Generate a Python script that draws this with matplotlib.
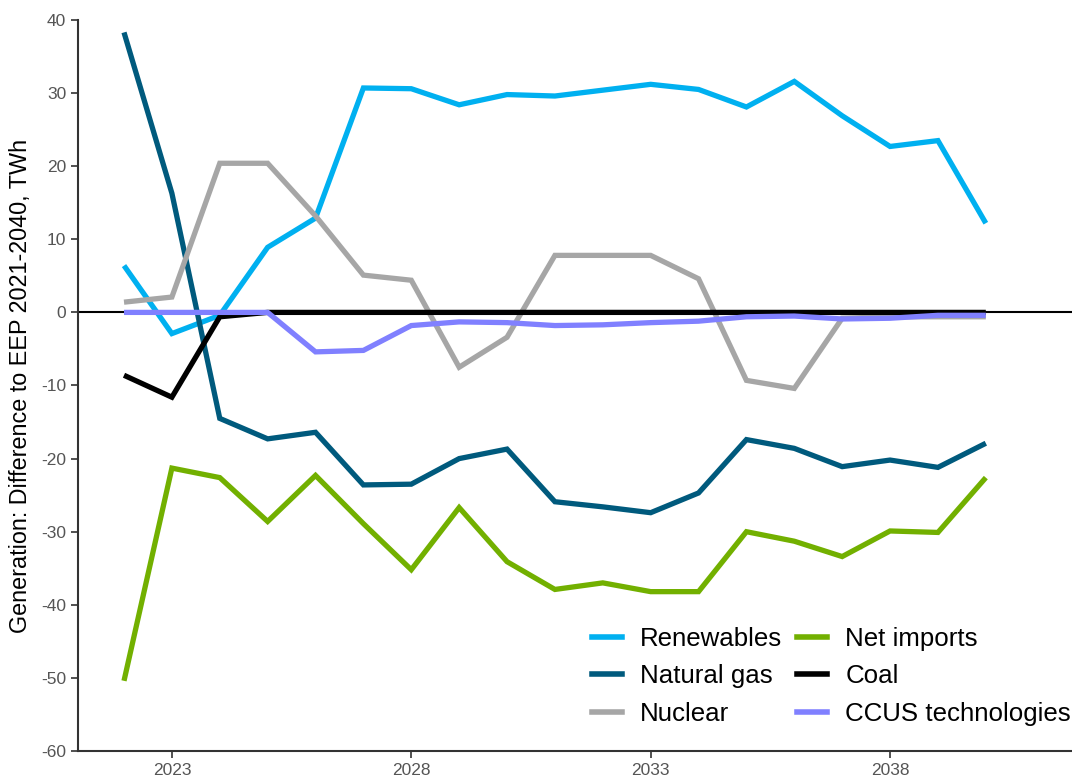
import matplotlib
matplotlib.use("Agg")
import matplotlib.pyplot as plt
from matplotlib.lines import Line2D

plt.rcParams['font.family'] = ['Liberation Sans', 'DejaVu Sans']
plt.rcParams['axes.unicode_minus'] = False

years = list(range(2022, 2041))

renewables = [6.4, -2.9, -0.4, 8.9, 12.9, 30.7, 30.6, 28.4, 29.8, 29.6, 30.4,
              31.2, 30.5, 28.1, 31.6, 26.9, 22.7, 23.5, 12.2]
natural_gas = [38.3, 16.3, -14.5, -17.3, -16.4, -23.6, -23.5, -20.0, -18.7, -25.9,
               -26.6, -27.4, -24.7, -17.4, -18.6, -21.1, -20.2, -21.2, -17.9]
nuclear = [1.4, 2.1, 20.4, 20.4, 13.2, 5.1, 4.4, -7.5, -3.4, 7.8, 7.8,
           7.8, 4.6, -9.3, -10.4, -0.8, -0.6, -0.6, -0.6]
net_imports = [-50.4, -21.3, -22.6, -28.6, -22.3, -28.9, -35.2, -26.7, -34.1, -37.9,
               -37.0, -38.2, -38.2, -30.0, -31.3, -33.4, -29.9, -30.1, -22.6]
coal = [-8.6, -11.6, -0.6, 0.0, 0.0, 0.0, 0.0, 0.0, 0.0, 0.0,
        0.0, 0.0, 0.0, 0.0, 0.0, 0.0, 0.0, 0.0, 0.0]
ccus = [0.0, 0.0, 0.0, 0.0, -5.4, -5.2, -1.8, -1.3, -1.4, -1.8,
        -1.7, -1.4, -1.2, -0.6, -0.5, -0.9, -0.8, -0.4, -0.4]

series_names = ["Renewables", "Natural gas", "Nuclear", "Net imports", "Coal", "CCUS technologies"]
series_values = [renewables, natural_gas, nuclear, net_imports, coal, ccus]
series_colors = ["#00B0F0", "#005A7D", "#A6A6A6", "#72B000", "#000000", "#8080FF"]

x_ticks = [2023, 2028, 2033, 2038]
y_ticks = [40, 30, 20, 10, 0, -10, -20, -30, -40, -50, -60]

fig = plt.figure(figsize=(10.72, 7.78), dpi=100)
ax = fig.add_axes([0.0728, 0.0347, 0.9272, 0.9396])

ax.axhline(0, color="black", linewidth=1.5, zorder=1)
for name, vals, col in zip(series_names, series_values, series_colors):
    ax.plot(years, vals, color=col, linewidth=3.8, solid_joinstyle="miter",
            solid_capstyle="butt", label=name, zorder=2)

ax.set_xlim(2021.04, 2041.8)
ax.set_ylim(-60, 40)
ax.set_xticks(x_ticks)
ax.set_yticks(y_ticks)
ax.tick_params(axis="both", colors="#333333", labelcolor="#555555",
               labelsize=12.5, length=5, width=1.2, direction="out")
for s in ["top", "right"]:
    ax.spines[s].set_visible(False)
for s in ["left", "bottom"]:
    ax.spines[s].set_color("#333333")
    ax.spines[s].set_linewidth(1.5)

ax.set_ylabel("Generation: Difference to EEP 2021-2040, TWh", fontsize=16.8,
              color="black")
ax.yaxis.set_label_coords(-0.046, 0.5)

handles = [Line2D([0], [0], color=c, linewidth=4) for c in series_colors]
leg = ax.legend(handles, series_names, ncol=2, loc="upper left",
                bbox_to_anchor=(0.517, 0.170), frameon=False, fontsize=18.6,
                handlelength=1.16, handletextpad=0.7, columnspacing=0.58,
                labelspacing=0.52, borderpad=0, borderaxespad=0)

fig.savefig("out.png", dpi=100)
